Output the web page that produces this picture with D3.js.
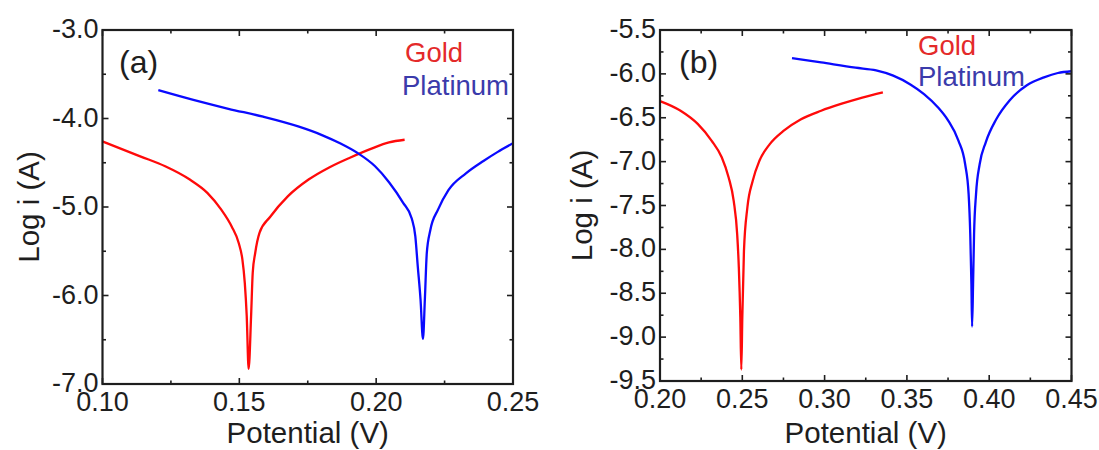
<!DOCTYPE html>
<html>
<head>
<meta charset="utf-8">
<script src="https://cdn.jsdelivr.net/npm/d3@7"></script>
<style>
  html, body { margin: 0; padding: 0; background: #fff; }
  svg { display: block; font-family: 'Liberation Sans', Arial, sans-serif; }
</style>
</head>
<body>
<svg id="chart" width="1099" height="450"></svg>
<script>
// ── Data ──────────────────────────────────────────────────────────────────
// panel (a)
const goldA_x = [0.100, 0.114, 0.1229, 0.1319, 0.1383, 0.1434, 0.1472, 0.1498, 0.1511, 0.1520, 0.1527, 0.1534,
                 0.1543, 0.1549, 0.1558, 0.1574, 0.1613, 0.1677, 0.1753, 0.1830, 0.1906, 0.1983, 0.2047, 0.2104];
const goldA_y = [-4.26, -4.43, -4.54, -4.69, -4.84, -5.03, -5.22, -5.41, -5.59, -5.86, -6.23, -6.83,
                 -6.23, -5.74, -5.52, -5.29, -5.11, -4.88, -4.69, -4.55, -4.44, -4.34, -4.27, -4.24];
const platA_x = [0.1204, 0.1332, 0.1460, 0.1587, 0.1715, 0.1804, 0.1868, 0.1932, 0.1996, 0.2047, 0.2098, 0.2130,
                 0.2143, 0.2152, 0.2162, 0.2171, 0.2178, 0.2185, 0.2198, 0.2226, 0.2264, 0.2328, 0.2392, 0.2443, 0.2500];
const platA_y = [-3.68, -3.79, -3.89, -3.98, -4.09, -4.19, -4.28, -4.39, -4.54, -4.72, -4.95, -5.13,
                 -5.33, -5.67, -6.04, -6.49, -6.04, -5.52, -5.26, -5.03, -4.81, -4.62, -4.48, -4.38, -4.28];
// panel (b)
const goldB_x = [0.2000, 0.2125, 0.2229, 0.2313, 0.2375, 0.2417, 0.2448, 0.2469, 0.2479, 0.2488, 0.2494,
                 0.2500, 0.2510, 0.2531, 0.2563, 0.2604, 0.2667, 0.2750, 0.2854, 0.2979, 0.3104, 0.3229, 0.3354];
const goldB_y = [-6.31, -6.42, -6.57, -6.76, -6.95, -7.18, -7.45, -7.83, -8.21, -8.78, -9.37,
                 -8.78, -8.02, -7.52, -7.22, -6.99, -6.80, -6.65, -6.52, -6.42, -6.34, -6.27, -6.21];
const platB_x = [0.2802, 0.2979, 0.3188, 0.3313, 0.3417, 0.3521, 0.3604, 0.3688, 0.3750, 0.3813, 0.3854, 0.3875,
                 0.3885, 0.3892, 0.3896, 0.3902, 0.3908, 0.3920, 0.3942, 0.3979, 0.4042, 0.4125, 0.4229, 0.4333, 0.4417, 0.4500];
const platB_y = [-5.82, -5.87, -5.93, -5.96, -6.02, -6.12, -6.23, -6.38, -6.53, -6.76, -7.03, -7.37,
                 -7.83, -8.40, -8.88, -8.40, -7.83, -7.37, -7.03, -6.78, -6.52, -6.30, -6.13, -6.04, -5.99, -5.97];

const xTicksA = [0.10, 0.15, 0.20, 0.25];
const yTicksA = [-3.0, -4.0, -5.0, -6.0, -7.0];
const xTicksB = [0.20, 0.25, 0.30, 0.35, 0.40, 0.45];
const yTicksB = [-5.5, -6.0, -6.5, -7.0, -7.5, -8.0, -8.5, -9.0, -9.5];
const seriesNames = ['Gold', 'Platinum'];

const zip = (xs, ys) => xs.map((x, i) => [x, ys[i]]);

const panels = [
  { tag: '(a)', box: [102.5, 513, 30, 384], xDom: [0.10, 0.25], yDom: [-7, -3],
    xTicks: xTicksA, xMinor: 0.025, yTicks: yTicksA, yMinor: 0.5,
    series: [zip(goldA_x, goldA_y), zip(platA_x, platA_y)],
    legend: [[405, 52], [402, 85]], tagPos: [119, 73], yLab: 29 },
  { tag: '(b)', box: [660, 1071.5, 30, 381], xDom: [0.20, 0.45], yDom: [-9.5, -5.5],
    xTicks: xTicksB, xMinor: 0.025, yTicks: yTicksB, yMinor: 0.25,
    series: [zip(goldB_x, goldB_y), zip(platB_x, platB_y)],
    legend: [[918, 45], [918, 76]], tagPos: [679, 73], yLab: 582 },
];

const LINE_COLORS = ['#ff0a0a', '#0a0aff'];
const LABEL_COLORS = ['#e42a2a', '#3b3bab'];
const INK = '#1e1e1e';

const svg = d3.select('#chart');

// ── Draw each panel ────────────────────────────────────────────────────────
panels.forEach(p => {
  const [x0, x1, y0, y1] = p.box;
  const x = d3.scaleLinear().domain(p.xDom).range([x0, x1]);
  const y = d3.scaleLinear().domain(p.yDom).range([y1, y0]);
  const g = svg.append('g');

  // ticks, inward on all four sides
  const xMin = d3.range(p.xDom[0], p.xDom[1] + 1e-9, p.xMinor);
  const yMin = d3.range(p.yDom[0], p.yDom[1] + 1e-9, p.yMinor);
  const isMajor = (v, list) => list.some(t => Math.abs(t - v) < 1e-6);

  const tk = g.append('g').attr('stroke', INK).attr('stroke-width', 1.6);
  xMin.forEach(v => {
    const len = isMajor(v, p.xTicks) ? 6 : 3.5;
    tk.append('line').attr('x1', x(v)).attr('x2', x(v)).attr('y1', y1).attr('y2', y1 - len);
    tk.append('line').attr('x1', x(v)).attr('x2', x(v)).attr('y1', y0).attr('y2', y0 + len);
  });
  yMin.forEach(v => {
    const len = isMajor(v, p.yTicks) ? 6 : 3.5;
    tk.append('line').attr('y1', y(v)).attr('y2', y(v)).attr('x1', x0).attr('x2', x0 + len);
    tk.append('line').attr('y1', y(v)).attr('y2', y(v)).attr('x1', x1).attr('x2', x1 - len);
  });

  // curves
  const line = d3.line().x(d => x(d[0])).y(d => y(d[1])).curve(d3.curveMonotoneX);
  p.series.forEach((s, i) => {
    g.append('path').datum(s)
      .attr('d', line)
      .attr('fill', 'none')
      .attr('stroke', LINE_COLORS[i])
      .attr('stroke-width', 2.3)
      .attr('stroke-linejoin', 'round');
  });

  // frame
  g.append('rect')
    .attr('x', x0).attr('y', y0).attr('width', x1 - x0).attr('height', y1 - y0)
    .attr('fill', 'none').attr('stroke', INK).attr('stroke-width', 2.2);

  // tick labels
  g.append('g').selectAll('text').data(p.xTicks).join('text')
    .attr('x', d => x(d)).attr('y', y1 + 27)
    .attr('text-anchor', 'middle').attr('font-size', 27).attr('fill', INK)
    .text(d => d3.format('.2f')(d));
  g.append('g').selectAll('text').data(p.yTicks).join('text')
    .attr('x', x0 - 4).attr('y', d => y(d)).attr('dy', '0.3em')
    .attr('text-anchor', 'end').attr('font-size', 27).attr('fill', INK)
    .text(d => d3.format('.1f')(d).replace('−', '-'));

  // axis titles
  g.append('text')
    .attr('x', (x0 + x1) / 2).attr('y', 443)
    .attr('text-anchor', 'middle').attr('font-size', 29.5).attr('fill', INK)
    .text('Potential (V)');
  g.append('text')
    .attr('transform', `translate(${p.yLab},${(y0 + y1) / 2}) rotate(-90)`)
    .attr('dy', '0.35em')
    .attr('text-anchor', 'middle').attr('font-size', 29.5).attr('fill', INK)
    .text('Log i (A)');

  // panel tag + legend
  g.append('text')
    .attr('x', p.tagPos[0]).attr('y', p.tagPos[1])
    .attr('font-size', 32).attr('fill', INK).text(p.tag);
  seriesNames.forEach((name, i) => {
    g.append('text')
      .attr('x', p.legend[i][0]).attr('y', p.legend[i][1]).attr('dy', '0.36em')
      .attr('font-size', 27.5).attr('fill', LABEL_COLORS[i]).text(name);
  });
});
</script>
</body>
</html>
